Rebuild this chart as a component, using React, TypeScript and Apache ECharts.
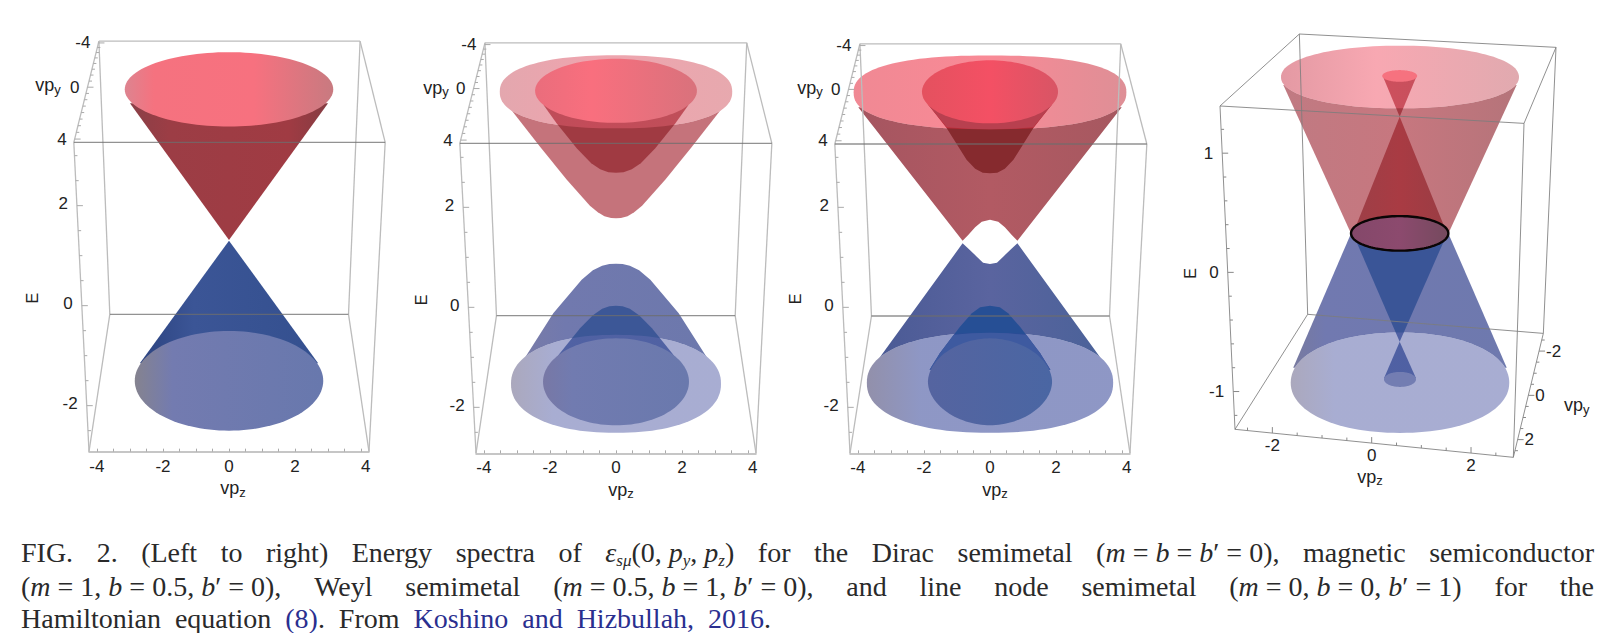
import React, { useEffect, useRef } from "react";
import * as echarts from "echarts";

// ---- axis ticks (panels 1-3) ----
const zLabels = [-4, -2, 0, 2, 4];
const zTicks = [-4, -3.5, -3, -2.5, -2, -1.5, -1, -0.5, 0, 0.5, 1, 1.5, 2, 2.5, 3, 3.5, 4];
const eLabels = [-2, 0, 2];
const eTicks = [-2.5, -2, -1.5, -1, -0.5, 0, 0.5, 1, 1.5, 2, 2.5, 3];
const yLabels = [-4, 0, 4];
const yTicks = [-4, -3.5, -3, -2.5, -2, -1.5, -1, -0.5, 0, 0.5, 1, 1.5, 2, 2.5, 3, 3.5, 4];
// ---- axis ticks (panel 4) ----
const z4Labels = [-2, 0, 2];
const z4Ticks = [-2.5, -2, -1.5, -1, -0.5, 0, 0.5, 1, 1.5, 2, 2.5];
const e4Labels = [-1, 0, 1];
const e4Ticks = [-1.2, -1, -0.8, -0.6, -0.4, -0.2, 0, 0.2, 0.4, 0.6, 0.8, 1, 1.2];
const y4Labels = [-2, 0, 2];
const y4Ticks = [-2.5, -2, -1.5, -1, -0.5, 0, 0.5, 1, 1.5, 2, 2.5];

// ---- box corners, [vpz, E] as seen: back TL, back TR, front TL, front TR, front BL, front BR, back BL, back BR ----
const box1 = [[-3.94, 5.29], [3.97, 5.29], [-4.7, 3.267], [4.73, 3.267], [-4.24, -2.92], [4.24, -2.92], [-3.61, -0.173], [3.62, -0.173]];
const box2 = [[-3.97, 5.29], [3.96, 5.29], [-4.73, 3.28], [4.72, 3.28], [-4.24, -2.92], [4.24, -2.92], [-3.62, -0.167], [3.61, -0.167]];
const box3 = [[-3.94, 5.27], [3.96, 5.27], [-4.7, 3.267], [4.75, 3.267], [-4.24, -2.92], [4.24, -2.92], [-3.59, -0.173], [3.62, -0.173]];
const box4 = [[-1.456, 2.0], [3.711, 1.888], [-3.054, 1.396], [3.067, 1.25], [-2.752, -1.317], [2.852, -1.552], [-1.289, -0.352], [3.456, -0.512]];

// ---- surface rims [centre vpz, centre E, radius vpz, radius E, roundness] ----
const p1UpperRim = [0, 4.327, 3.157, 0.743, 2];
const p1LowerRim = [0, -1.503, 2.854, 0.997, 2];
const p2OuterUpperRim = [0, 4.31, 3.52, 0.73, 2.3];
const p2InnerUpperRim = [0, 4.33, 2.45, 0.64, 2];
const p2OuterLowerRim = [0, -1.53, 3.18, 0.98, 2.2];
const p2InnerLowerRim = [0, -1.49, 2.21, 0.87, 2];
const p3OuterUpperRim = [0, 4.3, 4.13, 0.737, 2.4];
const p3InnerUpperRim = [0, 4.31, 2.06, 0.63, 2];
const p3OuterLowerRim = [0, -1.51, 3.73, 1.0, 2.25];
const p3InnerLowerRim = [0, -1.49, 1.88, 0.87, 1.9];
const p4OuterUpperRim = [0.57, 1.639, 2.396, 0.263, 2.1];
const p4InnerUpperRim = [0.564, 1.648, 0.352, 0.049, 2];
const p4NodeRing = [0.564, 0.327, 0.98, 0.145, 2];
const p4OuterLowerRim = [0.57, -0.926, 2.2, 0.421, 2.1];
const p4InnerLowerRim = [0.57, -0.898, 0.322, 0.063, 2];

// ---- surface silhouettes, half profile [vpz, E] from the rim to the axis ----
const p1UpperBody = [[-3.0, 4.05], [0, 1.313]];
const p1LowerBody = [[-2.7, -1.15], [0, 1.3]];
const p2OuterUpperBody = [[-3.48, 4.21], [-3.01, 3.81], [-2.3, 3.21], [-1.49, 2.55], [-0.79, 2.03], [-0.55, 1.9], [-0.35, 1.82], [-0.15, 1.785], [0, 1.78]];
const p2InnerUpperBody = [[-2.2, 4.05], [-1.8, 3.68], [-1.19, 3.18], [-0.75, 2.88], [-0.48, 2.76], [-0.23, 2.7], [0, 2.69]];
const p2OuterLowerBody = [[-3.1, -1.3], [-2.7, -0.95], [-1.9, -0.12], [-1.04, 0.55], [-0.7, 0.74], [-0.42, 0.83], [-0.2, 0.865], [0, 0.87]];
const p2InnerLowerBody = [[-2.1, -1.28], [-1.7, -0.92], [-1.09, -0.42], [-0.7, -0.16], [-0.42, -0.03], [-0.2, 0.02], [0, 0.03]];
const p3OuterUpperBody = [[-3.99, 4.0], [-0.83, 1.33], [-0.66, 1.447], [-0.45, 1.6], [-0.25, 1.713], [0, 1.75]];
const p3InnerUpperBody = [[-1.87, 4.05], [-1.31, 3.58], [-0.71, 2.95], [-0.45, 2.77], [-0.22, 2.69], [0, 2.68]];
const p3OuterLowerBody = [[-3.5, -1.15], [-0.83, 1.28], [-0.61, 1.147], [-0.4, 1.013], [-0.21, 0.893], [0, 0.867]];
const p3InnerLowerBody = [[-1.83, -1.25], [-1.52, -0.92], [-0.91, -0.39], [-0.55, -0.12], [-0.3, 0.0], [0, 0.03]];
const p3UpperOverlap = [[-1.87, 4.05], [-1.31, 3.6], [-0.65, 3.57], [0, 3.563]];
const p3LowerOverlap = [[-1.83, -1.25], [-1.52, -0.92], [-1.1, -0.55], [-0.55, -0.52], [0, -0.51]];
// panel 4 cones are full outlines
const p4OuterUpperBody = [[-1.779, 1.572], [2.919, 1.572], [1.544, 0.327], [-0.416, 0.327]];
const p4InnerUpperWide = [[0.564, 1.306], [1.477, 0.369], [-0.336, 0.369]];
const p4InnerUpperNarrow = [[0.235, 1.636], [0.893, 1.636], [0.564, 1.306]];
const p4OuterLowerBody = [[-0.416, 0.327], [1.544, 0.327], [2.72, -0.8], [-1.58, -0.8]];
const p4InnerLowerWide = [[-0.336, 0.285], [1.477, 0.285], [0.564, -0.582]];
const p4InnerLowerNarrow = [[0.564, -0.582], [0.248, -0.889], [0.893, -0.889]];

// ---- caption ----
const captionLine1 = ["FIG.", "2.", "(Left", "to", "right)", "Energy", "spectra", "of", "*ε*_sμ_(0, *p*_y_, *p*_z_)", "for", "the", "Dirac", "semimetal", "(*m* = *b* = *b*′ = 0),", "magnetic", "semiconductor"];
const captionLine2 = ["(*m* = 1, *b* = 0.5, *b*′ = 0),", "Weyl", "semimetal", "(*m* = 0.5, *b* = 1, *b*′ = 0),", "and", "line", "node", "semimetal", "(*m* = 0, *b* = 0, *b*′ = 1)", "for", "the"];
const captionLine3 = ["Hamiltonian", "equation", "~(8)~.", "From", "~Koshino~", "~and~", "~Hizbullah,~", "~2016~."];

const SANS = '"Liberation Sans", Arial, sans-serif';
const SERIF = '"Liberation Serif", "Times New Roman", serif';
const TICK_LABEL = "#222222";
const TICK_SIZE = 17;

type Stops = [number, string][];
const grad = (stops: Stops) =>
  new echarts.graphic.LinearGradient(0, 0, 1, 0, stops.map(([offset, color]) => ({ offset, color })));
const flat = (c: string): Stops => [[0, c], [1, c]];
const mirror = (half: number[][]) => [...half, ...half.slice(0, -1).reverse().map(([z, e]) => [-z, e])];
const oval = ([cz, ce, rz, re, n]: number[]) => {
  const pts: number[][] = [];
  for (let i = 0; i < 120; i++) {
    const a = (i / 120) * Math.PI * 2;
    const c = Math.cos(a), s = Math.sin(a);
    pts.push([cz + rz * Math.sign(c) * Math.pow(Math.abs(c), 2 / n), ce + re * Math.sign(s) * Math.pow(Math.abs(s), 2 / n)]);
  }
  return pts;
};
const WHITE = flat("#ffffff");

type Layer = { pts: number[][]; fill: Stops; stroke?: string; width?: number };
const L = (pts: number[][], fill: Stops, stroke?: string, width?: number): Layer => ({ pts, fill, stroke, width });

const layers1: Layer[] = [
  L(mirror(p1UpperBody), [[0, "#8a3f47"], [0.2, "#9c3d45"], [0.8, "#a03b43"], [1, "#853c42"]]),
  L(oval(p1UpperRim), [[0, "#dd8490"], [0.14, "#f5727f"], [0.62, "#f7717f"], [1, "#c87a80"]]),
  L(mirror(p1LowerBody), [[0, "#2c4380"], [0.3, "#3b5596"], [1, "#34508f"]]),
  L(oval(p1LowerRim), [[0, "#85838f"], [0.2, "#737bb0"], [1, "#6878ad"]]),
];
const layers2: Layer[] = [
  L(mirror(p2OuterUpperBody), flat("#c5737b")),
  L(oval(p2OuterUpperRim), WHITE),
  L(mirror(p2InnerUpperBody), flat("#a03a42")),
  L(oval(p2OuterUpperRim), [[0, "rgba(205,95,108,0.55)"], [0.4, "rgba(225,90,108,0.55)"], [1, "rgba(212,98,108,0.55)"]]),
  L(oval(p2InnerUpperRim), [[0, "#ea6d7c"], [0.35, "#f96f7e"], [1, "#d9727c"]]),
  L(mirror(p2OuterLowerBody), [[0, "#7b7ca6"], [0.25, "#7179ae"], [1, "#6c78ac"]]),
  L(oval(p2OuterLowerRim), WHITE),
  L(mirror(p2InnerLowerBody), flat("#3c5797")),
  L(oval(p2OuterLowerRim), [[0, "rgba(102,97,134,0.55)"], [0.2, "rgba(97,106,173,0.55)"], [1, "rgba(97,106,173,0.55)"]]),
  L(oval(p2InnerLowerRim), [[0, "#7878a5"], [0.2, "#717bb0"], [1, "#6a79ad"]]),
];
const layers3: Layer[] = [
  L(mirror(p3OuterUpperBody), [[0, "#a55560"], [0.5, "#b25a63"], [1, "#a65860"]]),
  L(oval(p3OuterUpperRim), WHITE),
  L(mirror(p3InnerUpperBody), flat("#862a2e")),
  L(oval(p3OuterUpperRim), [[0, "rgba(228,40,60,0.55)"], [0.5, "rgba(244,42,64,0.55)"], [1, "rgba(195,51,64,0.55)"]]),
  L(mirror(p3UpperOverlap), flat("#b8404f")),
  L(oval(p3InnerUpperRim), [[0, "#e4515f"], [0.5, "#f45064"], [1, "#d85565"]]),
  L(mirror(p3OuterLowerBody), [[0, "#4a5a95"], [0.5, "#5a649f"], [1, "#4a6299"]]),
  L(oval(p3OuterLowerRim), WHITE),
  L(mirror(p3InnerLowerBody), flat("#264f95")),
  L(oval(p3OuterLowerRim), [[0, "rgba(57,53,101,0.55)"], [0.22, "rgba(50,66,150,0.55)"], [1, "rgba(50,66,150,0.55)"]]),
  L(mirror(p3LowerOverlap), flat("#3e5aa0")),
  L(oval(p3InnerLowerRim), [[0, "#5564a0"], [1, "#4a66a3"]]),
];
const layers4: Layer[] = [
  L(p4OuterUpperBody, [[0, "#c07a82"], [0.5, "#c7777f"], [1, "#b5747a"]]),
  L(oval(p4OuterUpperRim), WHITE),
  L(p4InnerUpperWide, [[0, "#9d3f47"], [0.5, "#a93b43"], [1, "#9a3d44"]]),
  L(p4InnerUpperNarrow, flat("#a33a43")),
  L(oval(p4OuterUpperRim), [[0, "rgba(205,70,88,0.55)"], [0.4, "rgba(242,97,115,0.55)"], [1, "rgba(200,100,110,0.55)"]]),
  L(oval(p4InnerUpperRim), flat("#f6727f")),
  L(p4OuterLowerBody, [[0, "#787a9f"], [0.15, "#7179b0"], [1, "#6e79ae"]]),
  L(oval(p4OuterLowerRim), WHITE),
  L(p4InnerLowerWide, flat("#3a5597")),
  L(p4InnerLowerNarrow, flat("#3a5597")),
  L(oval(p4OuterLowerRim), [[0, "rgba(102,97,134,0.55)"], [0.2, "rgba(97,106,173,0.55)"], [1, "rgba(97,106,173,0.55)"]]),
  L(oval(p4InnerLowerRim), flat("#737db2")),
  L(oval(p4NodeRing), [[0, "#84486a"], [0.5, "#8c4a6e"], [1, "#754a5e"]], "#0a0505", 2.4),
];

const boxEdges = [[0, 1], [2, 0], [3, 1], [2, 4], [3, 5], [0, 6], [1, 7], [4, 6], [5, 7]];
const darkEdges = [[2, 3], [6, 7]];

const rich = (sub: string) => ({
  text: `{a|vp}{b|${sub}}`,
  fill: TICK_LABEL,
  align: "center",
  verticalAlign: "middle",
  rich: {
    a: { fontFamily: SANS, fontSize: TICK_SIZE + 1, fill: TICK_LABEL },
    b: { fontFamily: SANS, fontSize: TICK_SIZE - 4, fill: TICK_LABEL, padding: [8, 0, 0, 0] },
  },
});

function makeRender(cfg: any) {
  return (_p: any, api: any) => {
    const P = (z: number, e: number) => api.coord([z, e]);
    const ch: any[] = [];
    cfg.layers.forEach((l: Layer) => {
      ch.push({
        type: "polygon",
        shape: { points: l.pts.map(([z, e]) => P(z, e)) },
        style: { fill: grad(l.fill), stroke: l.stroke || null, lineWidth: l.width || 0 },
      });
    });
    const seg = (a: number[], b: number[], stroke: string, lineWidth: number) =>
      ch.push({ type: "line", shape: { x1: a[0], y1: a[1], x2: b[0], y2: b[1] }, style: { stroke, lineWidth } });
    const C = cfg.box.map(([z, e]: number[]) => P(z, e));
    boxEdges.forEach(([a, b]) => seg(C[a], C[b], cfg.edge, cfg.edgeW));
    darkEdges.forEach(([a, b]) => seg(C[a], C[b], cfg.dark, cfg.edgeW));
    if (cfg.frontBottom) seg(C[4], C[5], cfg.edge, cfg.edgeW);

    const txt = (x: number, y: number, text: string, align: string) =>
      ch.push({
        type: "text",
        x,
        y,
        style: { text, fontFamily: SANS, fontSize: TICK_SIZE, fill: TICK_LABEL, align, verticalAlign: "middle" },
      });

    // E ticks on the slanted front-left edge
    const top = C[2], bot = C[4];
    const onE = (e: number) => {
      const p = P(0, e);
      const t = (p[1] - top[1]) / (bot[1] - top[1]);
      return [top[0] + (bot[0] - top[0]) * t, p[1]];
    };
    cfg.eTicks.forEach((e: number) => {
      const q = onE(e);
      const major = cfg.eLabels.includes(e);
      seg(q, [q[0] + (major ? 6 : 3), q[1]], cfg.tick, 1);
    });
    cfg.eLabels.forEach((e: number) => {
      const q = onE(e);
      txt(q[0] - 9, q[1] + cfg.eLabelDy, String(e), "right");
    });

    // vp_y ticks
    const a = C[cfg.yEdge[0]], b = C[cfg.yEdge[1]];
    const onY = (v: number) => {
      const t = Math.pow((v + cfg.yRange) / (2 * cfg.yRange), cfg.yPow);
      return [a[0] + (b[0] - a[0]) * t, a[1] + (b[1] - a[1]) * t];
    };
    cfg.yTicks.forEach((v: number) => {
      const q = onY(v);
      const major = cfg.yLabels.includes(v);
      seg(q, [q[0] + (major ? 6 : 3), q[1]], cfg.tick, 1);
    });
    cfg.yLabels.forEach((v: number) => {
      const q = onY(v);
      txt(q[0] + cfg.yLabelDx, q[1], String(v), cfg.yAlign);
    });

    // vp_z ticks on the tilted edge of panel 4
    if (cfg.zTicks) {
      const l = C[4], r = C[5];
      const onZ = (z: number) => {
        const p = P(z, 0);
        const t = (p[0] - l[0]) / (r[0] - l[0]);
        return [p[0], l[1] + (r[1] - l[1]) * t];
      };
      cfg.zTicks.forEach((z: number) => {
        const q = onZ(z);
        const major = cfg.zLabels.includes(z);
        seg(q, [q[0], q[1] - (major ? 6 : 3)], cfg.tick, 1);
      });
      cfg.zLabels.forEach((z: number) => {
        const q = onZ(z);
        txt(q[0], q[1] + 12.5, String(z), "center");
      });
    }

    // axis names
    const ny = P(cfg.names.y[0], cfg.names.y[1]);
    ch.push({ type: "text", x: ny[0], y: ny[1], style: rich("y") });
    const nz = P(cfg.names.z[0], cfg.names.z[1]);
    ch.push({ type: "text", x: nz[0], y: nz[1], style: rich("z") });
    const ne = P(cfg.names.e[0], cfg.names.e[1]);
    ch.push({
      type: "text",
      x: ne[0],
      y: ne[1],
      rotation: Math.PI / 2,
      style: { text: "E", fontFamily: SANS, fontSize: 16, fill: TICK_LABEL, align: "center", verticalAlign: "middle" },
    });
    return { type: "group", children: ch };
  };
}

const common = { eTicks, eLabels, yTicks, yLabels, edge: "#bcbcbc", dark: "rgba(110,110,110,0.75)", edgeW: 1.3, tick: "#aaaaaa", yEdge: [0, 2], yRange: 4.24, yPow: 1.136, yLabelDx: -8, yAlign: "right", eLabelDy: -2 };
const panels: any[] = [
  { ...common, layers: layers1, box: box1, cx: 229, e0: 305.67, names: { y: [-5.48, 4.41], e: [-5.94, 0.15], z: [0.12, -3.65] } },
  { ...common, layers: layers2, box: box2, cx: 616, e0: 307.33, names: { y: [-5.45, 4.39], e: [-5.88, 0.15], z: [0.15, -3.65] } },
  { ...common, layers: layers3, box: box3, cx: 990, e0: 307.33, names: { y: [-5.45, 4.39], e: [-5.88, 0.17], z: [0.15, -3.65] } },
];
const panel4 = {
  layers: layers4, box: box4, eTicks: e4Ticks, eLabels: e4Labels, yTicks: y4Ticks, yLabels: y4Labels,
  zTicks: z4Ticks, zLabels: z4Labels, edge: "rgba(125,125,125,0.85)", dark: "rgba(125,125,125,0.85)", edgeW: 1, tick: "#888888",
  yEdge: [7, 5], yRange: 2.8, yPow: 1, yLabelDx: 7, yAlign: "left", eLabelDy: 0, frontBottom: true,
  names: { y: [4.127, -1.113], e: [-3.644, -0.008], z: [-0.034, -1.715] },
};

function caption() {
  const size = 28;
  const subSize = 17;
  const ctx = document.createElement("canvas").getContext("2d")!;
  const parse = (tok: string) =>
    tok.split(/(\*[^*]+\*|_[^_]+_|~[^~]+~)/).filter(Boolean).map((s) => {
      const m = s[0];
      if (m === "*") return { t: s.slice(1, -1), it: true, sub: false, blue: false };
      if (m === "_") return { t: s.slice(1, -1), it: true, sub: true, blue: false };
      if (m === "~") return { t: s.slice(1, -1), it: false, sub: false, blue: true };
      return { t: s, it: false, sub: false, blue: false };
    });
  const fontOf = (p: any) => `${p.it ? "italic " : ""}${p.sub ? subSize : size}px ${SERIF}`;
  const width = (p: any) => {
    ctx.font = fontOf(p);
    return ctx.measureText(p.t).width;
  };
  const out: any[] = [];
  const line = (tokens: string[], left: number, right: number, y: number) => {
    const parsed = tokens.map(parse);
    const widths = parsed.map((ps) => ps.reduce((s, p) => s + width(p), 0));
    const gap = (right - left - widths.reduce((a, b) => a + b, 0)) / (tokens.length - 1);
    let x = left;
    parsed.forEach((ps, i) => {
      let px = x;
      ps.forEach((p) => {
        out.push({
          type: "text",
          x: px,
          y: y + (p.sub ? 8 : 0),
          silent: true,
          style: {
            text: p.t,
            fontFamily: SERIF,
            fontStyle: p.it ? "italic" : "normal",
            fontSize: p.sub ? subSize : size,
            fill: p.blue ? "#2a2f8f" : "#2a2a2a",
            align: "left",
            verticalAlign: "middle",
          },
        });
        px += width(p);
      });
      x += widths[i] + gap;
    });
  };
  line(captionLine1, 21, 1594, 552);
  line(captionLine2, 21, 1594, 586);
  line(captionLine3, 21, 771, 618);
  return out;
}

export default function App() {
  const ref = useRef<HTMLDivElement>(null);
  useEffect(() => {
    const chart = echarts.init(ref.current!, undefined, { renderer: "svg" });
    const grid: any[] = [];
    const xAxis: any[] = [];
    const yAxis: any[] = [];
    const series: any[] = [];
    panels.forEach((p, i) => {
      grid.push({ left: p.cx - 140, width: 280, top: p.e0 - 5.29 * 50, height: 8.21 * 50 });
      xAxis.push({
        type: "value", gridIndex: i, min: -4.24, max: 4.24, splitLine: { show: false },
        axisLine: { show: true, onZero: false, lineStyle: { color: "#b4b4b4", width: 1.5 } },
        axisTick: { show: true, inside: true, length: 3, customValues: zTicks, lineStyle: { color: "#aaaaaa" } },
        axisLabel: { show: true, customValues: zLabels, margin: 6, color: TICK_LABEL, fontFamily: SANS, fontSize: TICK_SIZE, alignMaxLabel: "left" },
      });
      yAxis.push({ type: "value", gridIndex: i, min: -2.92, max: 5.29, show: false });
      series.push({ type: "custom", xAxisIndex: i, yAxisIndex: i, data: [[0, 0]], silent: true, renderItem: makeRender(p) });
    });
    grid.push({ left: 1220, width: 336, top: 34, height: 423.33 });
    xAxis.push({ type: "value", gridIndex: 3, min: -3.054, max: 3.711, show: false });
    yAxis.push({ type: "value", gridIndex: 3, min: -1.552, max: 2.0, show: false });
    series.push({ type: "custom", xAxisIndex: 3, yAxisIndex: 3, data: [[0, 0]], silent: true, renderItem: makeRender(panel4) });

    chart.setOption({
      animation: false,
      backgroundColor: "#ffffff",
      grid,
      xAxis,
      yAxis,
      series,
      graphic: { elements: caption() },
    });
    return () => chart.dispose();
  }, []);
  return <div ref={ref} style={{ position: "absolute", left: 0, top: 0, width: 1608, height: 633 }} />;
}
